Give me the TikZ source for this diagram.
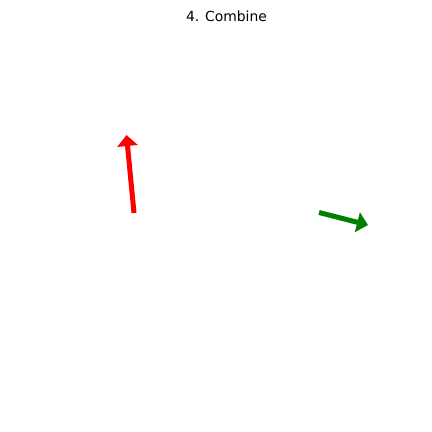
\documentclass[tikz,border=0pt]{standalone}
\usepackage{fontspec}
\setmainfont{DejaVu Sans}
\usetikzlibrary{arrows.meta}

\begin{document}
\begin{tikzpicture}[x=1pt,y=-1pt,
  vec/.style={line width=5pt,-{Triangle[length=11pt,width=20pt]}}]
\useasboundingbox (0,0) rectangle (432,432);
\node (title) at (226.5,16) {\fontsize{13.9}{16}\selectfont 4. Combine};

\coordinate (redtail) at (134,213);
\coordinate (redtip) at (126.5,135);
\coordinate (greentail) at (319,212.5);
\coordinate (greentip) at (368,225);

\draw[vec,red] (redtail) -- (redtip);
\draw[vec,green!50!black] (greentail) -- (greentip);% second vector

\end{tikzpicture}
\end{document}
